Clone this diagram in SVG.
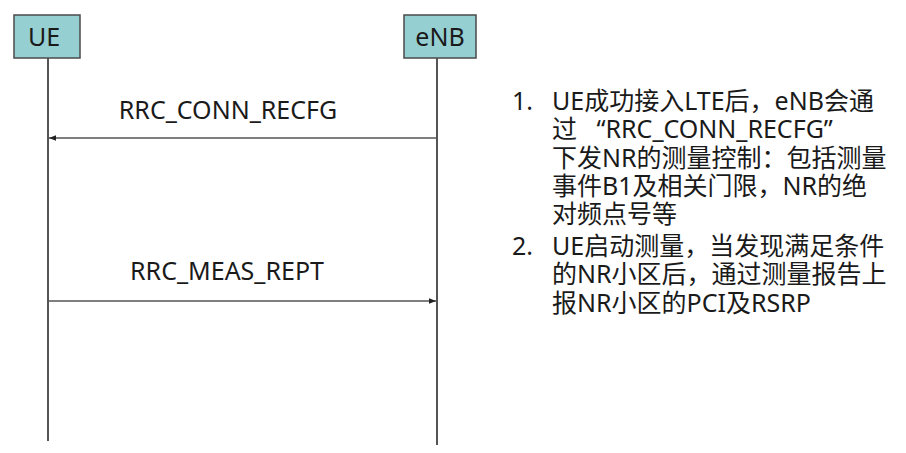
<svg xmlns="http://www.w3.org/2000/svg" width="906" height="453" viewBox="0 0 906 453">
<style>
.box{fill:#95cfd1;stroke:#4a4a4a;stroke-width:1.5}
.life{stroke:#555;stroke-width:2}
.msg{stroke:#555;stroke-width:1.5;fill:none}
.t{font-family:"Noto Sans","Noto Sans CJK SC",sans-serif;fill:#1a1a1a}
.lbl{font-size:25px}
.desc{font-family:"Noto Sans","Noto Sans CJK SC",sans-serif;font-size:25px;fill:#1a1a1a}
</style>
<defs>
<marker id="ah" viewBox="0 0 10 10" refX="10" refY="5" markerWidth="7" markerHeight="7" orient="auto-start-reverse" markerUnits="userSpaceOnUse">
<path d="M0,1 L10,5 L0,9 z" fill="#222"/>
</marker>
</defs>
<rect width="906" height="453" fill="#fff"/>
<g id="UE">
<rect class="box" x="14" y="15" width="66" height="43"/>
<text class="t" x="44" y="46" font-size="25" text-anchor="middle">UE</text>
<line class="life" x1="48" y1="58" x2="48" y2="441"/>
</g>
<g id="eNB">
<rect class="box" x="404" y="15" width="72" height="43"/>
<text class="t" x="440" y="46" font-size="25" text-anchor="middle">eNB</text>
<line class="life" x1="437" y1="58" x2="437" y2="445"/>
</g>
<g id="connectors">
<line class="msg" x1="437" y1="138" x2="49" y2="138" marker-end="url(#ah)"/>
<text class="t lbl" x="228" y="119" text-anchor="middle">RRC_CONN_RECFG</text>
<line class="msg" x1="48" y1="301" x2="436" y2="301" marker-end="url(#ah)"/>
<text class="t lbl" x="227" y="280" text-anchor="middle">RRC_MEAS_REPT</text>
</g>
<g id="notes" class="desc">
<text><tspan x="512" y="110">1.</tspan><tspan x="552" y="110">UE成功接入LTE后，eNB会通</tspan><tspan x="552" y="138">过&#160;&#160;&#160;“RRC_CONN_RECFG”</tspan><tspan x="552" y="167">下发NR的测量控制：包括测量</tspan><tspan x="552" y="195">事件B1及相关门限，NR的绝</tspan><tspan x="552" y="223">对频点号等</tspan></text>
<text><tspan x="512" y="255">2.</tspan><tspan x="552" y="255">UE启动测量，当发现满足条件</tspan><tspan x="552" y="283">的NR小区后，通过测量报告上</tspan><tspan x="552" y="312">报NR小区的PCI及RSRP</tspan></text>
</g>
</svg>
